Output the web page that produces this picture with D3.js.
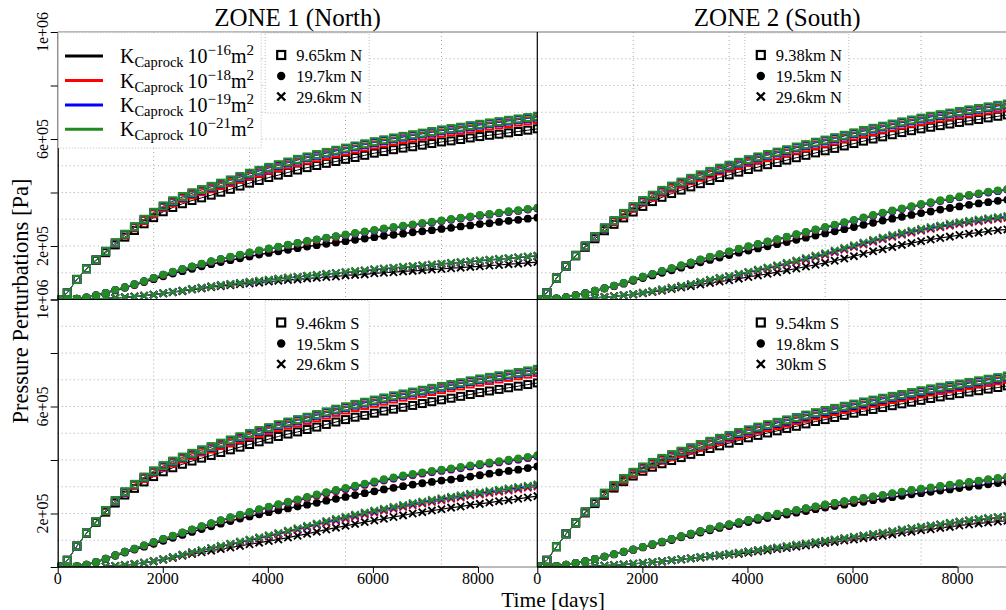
<!DOCTYPE html>
<html><head><meta charset="utf-8">
<script src="https://cdn.jsdelivr.net/npm/d3@7"></script>
<style>html,body{margin:0;padding:0;background:#fff;} svg{display:block;} text{font-family:"Liberation Serif","Times New Roman",Times,serif;}</style>
</head><body>
<script>
// ---------- DATA (pressure perturbation in kPa, time in days) ----------
const days = [0,183,365,548,730,913,1096,1278,1461,1644,1826,2009,2191,2374,2557,2739,2922,3104,3287,3470,3652,3835,4018,4200,4383,4566,4748,4931,5113,5296,5479,5661,5844,6027,6209,6392,6574,6757,6940,7122,7305,7488,7670,7853,8035,8218,8401,8583,8766,8948,9131];

// ZONE 1 (North)
const z1n_sq_k = [0,25,75,115,146,175,204,233,258,283,306,328,344,358,370,380,390,401,412,424,435,445,456,465,475,484,493,501,509,516,524,531,539,547,553,560,566,571,577,583,589,593,598,604,609,614,618,623,628,633,638];
const z1n_sq_r = [0,25,75,115,148,179,210,241,268,295,320,344,362,378,391,403,414,426,437,450,462,472,483,493,503,512,521,530,538,546,554,562,570,578,585,592,598,604,610,616,622,627,632,638,643,648,653,658,663,668,673];
const z1n_sq_b = [0,25,75,115,148,180,211,243,271,299,325,348,367,383,397,409,421,433,445,457,469,480,491,501,511,521,530,539,547,555,563,571,579,587,594,601,607,613,619,625,631,636,641,647,652,657,662,667,672,677,682];
const z1n_sq_g = [0,25,75,115,148,180,212,244,272,300,326,350,369,385,399,411,423,435,447,460,472,483,494,504,514,524,533,542,550,558,566,574,582,590,597,604,610,616,622,628,634,639,644,650,655,660,665,670,675,680,685];
const z1n_ci_k = [0,1,3,8,15,24,34,44,54,65,76,87,97,106,115,124,132,140,147,154,161,168,174,180,186,192,198,203,208,213,218,223,228,233,238,242,246,251,255,259,264,268,273,277,282,285,290,294,298,302,306];
const z1n_ci_r = [0,1,3,8,16,25,36,46,56,68,80,92,103,113,123,132,141,150,158,166,174,182,189,196,203,209,216,222,228,234,240,246,252,257,263,268,273,278,283,288,293,298,303,308,313,317,322,327,331,336,340];
const z1n_ci_b = [0,1,3,8,16,25,36,46,57,69,81,93,103,113,123,133,142,151,159,167,175,183,190,197,204,211,218,224,230,236,241,247,253,258,264,269,274,279,284,289,294,299,304,309,314,318,323,328,332,337,341];
const z1n_ci_g = [0,1,3,8,16,25,36,46,57,69,81,93,104,114,124,134,143,152,160,168,176,184,191,198,205,212,219,225,231,237,243,249,255,260,266,271,276,281,286,291,296,301,306,311,316,320,325,330,334,339,343];
const z1n_x_k = [0,0,0,1,2,4,6,8,11,14,18,23,27,31,37,41,46,50,53,57,60,63,67,70,73,75,79,81,84,86,90,92,94,98,100,102,105,107,109,112,114,117,119,122,124,127,129,132,134,137,140];
const z1n_x_r = [0,0,0,1,2,4,6,8,11,14,18,23,28,33,39,43,48,53,57,61,65,69,73,77,81,84,88,91,95,98,101,104,107,111,114,117,120,123,126,129,132,135,138,141,144,147,150,153,156,159,162];
const z1n_x_b = [0,0,0,1,2,4,6,8,11,14,18,23,28,33,39,44,49,54,58,62,65,69,73,77,81,84,88,91,95,98,102,105,108,112,115,118,121,124,127,130,133,136,139,142,145,148,151,154,157,160,163];
const z1n_x_g = [0,0,0,1,2,4,6,8,11,14,18,23,28,33,39,44,49,54,58,62,66,70,74,78,82,85,89,92,96,99,103,106,109,113,116,119,122,125,128,131,134,137,140,143,146,149,152,155,158,161,164];

// ZONE 2 (North)
const z2n_sq_k = [0,25,80,125,163,195,227,257,281,305,327,348,366,382,396,409,421,433,445,456,466,476,486,495,504,512,521,530,539,548,556,565,574,583,592,600,608,616,624,631,638,644,650,656,662,668,673,679,685,690,695];
const z2n_sq_r = [0,25,80,125,165,199,233,265,291,317,341,364,383,401,416,431,444,457,469,481,492,502,512,522,531,539,548,558,567,576,584,593,602,611,620,628,636,644,652,659,666,673,679,685,691,697,702,708,714,719,724];
const z2n_sq_b = [0,25,80,125,165,200,234,267,294,321,346,368,388,406,422,437,451,464,477,488,499,510,520,530,539,548,557,567,576,585,593,602,611,620,629,637,645,653,661,668,675,682,688,694,700,706,711,717,723,728,733];
const z2n_sq_g = [0,25,80,125,165,200,235,268,295,322,347,370,390,408,424,439,453,466,479,491,502,513,523,533,542,551,560,570,579,588,596,605,614,623,632,640,648,656,664,671,678,685,691,697,703,709,714,720,726,731,736];
const z2n_ci_k = [0,1,4,9,16,24,32,41,50,59,70,80,90,100,109,119,129,139,148,157,166,175,183,191,199,207,215,223,231,239,247,255,263,271,279,287,295,302,309,316,323,329,336,342,348,354,359,364,369,373,377];
const z2n_ci_r = [0,1,4,9,16,24,33,42,51,61,73,84,95,106,116,126,137,148,158,168,178,188,197,206,215,223,232,241,250,259,268,277,286,295,304,313,322,330,338,346,354,361,368,375,382,388,394,400,405,410,415];
const z2n_ci_b = [0,1,4,9,16,24,33,42,52,62,74,85,95,106,116,127,138,149,159,169,179,189,198,207,216,225,234,243,252,261,269,278,287,296,305,314,323,331,339,347,355,362,369,376,383,389,395,401,406,411,416];
const z2n_ci_g = [0,1,4,9,16,24,33,42,52,62,74,85,96,107,117,128,139,150,160,170,180,190,199,208,217,226,235,244,253,262,271,280,289,298,307,316,325,333,341,349,357,364,371,378,385,391,397,403,408,413,418];
const z2n_x_k = [0,0,0,1,2,4,6,9,12,16,19,23,28,33,39,45,50,56,62,67,72,78,84,90,96,102,109,116,123,130,137,145,153,162,171,180,188,196,204,211,218,224,230,235,241,246,250,255,259,262,266];
const z2n_x_r = [0,0,0,1,2,4,6,9,12,16,20,25,30,36,43,49,56,64,71,78,85,92,100,108,115,123,132,140,149,158,166,176,186,196,206,216,225,234,242,250,257,264,270,276,282,287,292,297,301,305,309];
const z2n_x_b = [0,0,0,1,2,4,6,9,12,16,20,25,31,37,44,50,57,65,73,80,86,94,102,110,118,126,135,144,152,161,170,180,190,200,210,220,229,238,246,254,261,268,274,280,286,291,296,301,305,309,313];
const z2n_x_g = [0,0,0,1,2,4,6,9,12,16,20,25,31,37,44,51,58,66,74,81,88,96,104,112,120,128,137,146,155,164,173,183,193,203,213,223,232,241,249,257,264,271,277,283,289,294,299,304,308,312,316];

// ZONE 1 (South)
const z1s_sq_k = [0,25,78,126,167,205,239,269,294,318,338,356,371,384,396,407,417,428,438,448,458,468,478,488,497,505,514,523,533,542,551,560,567,575,583,590,597,604,611,618,625,631,638,645,652,658,664,670,676,682,688];
const z1s_sq_r = [0,25,78,127,170,210,246,278,305,331,353,373,389,404,417,430,441,454,465,477,489,499,510,521,531,539,548,558,568,578,587,596,604,612,620,628,635,642,649,656,663,670,677,684,691,697,703,709,715,721,727];
const z1s_sq_b = [0,25,78,127,170,211,247,280,308,335,358,377,394,409,423,436,448,461,473,484,496,507,518,529,539,548,557,567,577,587,596,605,613,621,629,637,644,651,658,665,672,679,686,693,700,706,712,718,724,730,736];
const z1s_sq_g = [0,25,78,127,170,211,248,281,309,336,359,379,396,411,425,438,450,463,475,487,499,510,521,532,542,551,560,570,580,590,599,608,616,624,632,640,647,654,661,668,675,682,689,696,703,709,715,721,727,733,739];
const z1s_ci_k = [0,1,3,9,18,30,42,54,65,76,87,98,109,120,131,142,152,162,172,181,189,197,205,212,219,226,233,240,248,255,262,269,276,283,290,296,302,308,313,318,323,327,332,338,343,349,354,359,364,370,376];
const z1s_ci_r = [0,1,3,9,19,31,44,57,68,80,92,104,116,128,140,151,162,173,183,193,203,212,222,231,240,248,257,266,275,283,291,299,307,315,323,330,337,343,349,354,359,364,369,375,380,386,391,396,401,407,413];
const z1s_ci_b = [0,1,3,9,19,31,44,57,69,81,93,105,116,128,140,152,163,174,185,195,204,214,224,233,242,251,260,269,278,286,293,301,309,317,325,332,339,345,351,356,361,366,371,377,382,388,393,398,403,409,415];
const z1s_ci_g = [0,1,3,9,19,31,44,57,69,81,93,105,117,129,141,153,164,175,186,196,206,216,226,235,244,253,262,271,280,288,296,304,312,320,328,335,342,348,354,359,364,369,374,380,385,391,396,401,406,412,418];
const z1s_x_k = [0,0,0,0,1,2,4,7,11,16,21,27,34,42,49,55,61,67,73,79,85,91,97,103,110,117,124,132,140,147,154,161,168,174,180,187,193,200,205,211,216,222,226,232,236,241,246,250,255,260,265];
const z1s_x_r = [0,0,0,0,1,2,4,7,11,16,22,29,36,45,53,61,69,76,84,92,99,107,114,122,131,139,148,157,165,173,180,188,196,203,210,217,224,231,237,243,249,255,260,266,271,276,281,286,291,296,301];
const z1s_x_b = [0,0,0,0,1,2,4,7,11,16,22,29,37,46,55,62,70,78,86,94,101,109,117,125,134,142,151,160,169,177,185,193,201,208,215,222,229,236,242,248,254,260,265,271,276,281,286,291,296,301,306];
const z1s_x_g = [0,0,0,0,1,2,4,7,11,16,22,29,37,46,55,63,71,79,87,95,103,111,119,127,136,145,154,163,172,180,188,196,204,211,218,225,232,239,245,251,257,263,268,274,279,284,289,294,299,304,309];

// ZONE 2 (South)
const z2s_sq_k = [0,25,76,124,164,202,237,268,295,319,340,358,373,386,398,409,421,432,443,453,463,473,483,492,501,509,518,526,535,544,551,559,567,575,582,589,596,603,610,616,623,630,636,642,648,654,659,665,671,677,683];
const z2s_sq_r = [0,25,76,124,166,205,241,273,301,326,348,368,384,399,412,425,437,449,460,471,482,492,502,512,521,529,538,547,556,565,573,581,589,597,605,612,619,626,633,640,647,654,660,666,672,678,684,690,696,702,708];
const z2s_sq_b = [0,25,76,124,166,206,242,275,304,330,353,372,389,404,418,431,444,456,468,478,489,500,510,520,529,538,547,556,565,574,582,590,598,606,614,621,628,635,642,649,656,663,669,675,681,687,693,699,705,711,717];
const z2s_sq_g = [0,25,76,124,166,206,243,276,305,331,354,374,391,406,420,433,446,458,470,481,492,503,513,523,532,541,550,559,568,577,585,593,601,609,617,624,631,638,645,652,659,666,672,678,684,690,696,702,708,714,720];
const z2s_ci_k = [0,1,4,9,15,22,30,39,47,56,64,73,82,92,101,111,120,129,137,146,153,161,168,176,183,190,196,203,209,216,222,228,233,239,244,250,255,261,266,272,276,281,286,290,295,300,304,309,314,318,323];
const z2s_ci_r = [0,1,4,9,15,22,30,39,48,57,65,74,84,94,104,114,124,133,142,151,158,166,174,182,190,197,204,211,218,225,231,237,243,249,255,261,267,273,279,285,290,295,300,305,310,315,320,325,330,335,340];
const z2s_ci_b = [0,1,4,9,15,22,30,39,48,57,66,75,85,95,105,115,125,134,143,152,159,167,175,183,191,198,205,212,219,226,233,239,245,251,257,263,268,274,280,286,291,296,301,306,311,316,321,326,331,336,341];
const z2s_ci_g = [0,1,4,9,15,22,30,39,48,57,66,75,85,95,105,115,125,134,143,152,160,168,176,184,192,199,206,213,220,227,234,240,246,252,258,264,270,276,282,288,293,298,303,308,313,318,323,328,333,338,343];
const z2s_x_k = [0,0,0,0,1,2,3,5,7,9,12,15,18,21,25,28,32,35,39,42,46,49,53,58,62,67,71,76,80,85,90,94,99,103,108,112,117,122,128,132,137,141,146,150,155,159,163,166,170,173,176];
const z2s_x_r = [0,0,0,0,1,2,3,5,7,9,12,15,18,21,25,29,33,37,41,45,48,52,57,62,67,71,76,81,86,91,95,100,105,110,115,120,125,131,137,142,147,152,157,162,167,172,176,180,184,188,192];
const z2s_x_b = [0,0,0,0,1,2,3,5,7,9,12,15,18,21,25,29,33,37,41,45,49,53,58,63,68,72,77,82,87,92,97,102,107,112,117,122,127,133,139,144,149,154,159,164,169,174,178,182,186,190,194];
const z2s_x_g = [0,0,0,0,1,2,3,5,7,9,12,15,18,21,25,29,33,37,41,45,49,53,58,63,68,73,78,83,88,93,98,103,108,113,118,123,128,134,140,145,150,155,160,165,170,175,179,183,187,191,195];

const permExp = ["\u221216","\u221218","\u221219","\u221221"];
const colors = ["#000000","#ff0000","#0000ff","#228b22"];
const xTicks = [0,2000,4000,6000,8000];
const yTicks = [0,200,400,600,800,1000];
const yTickLabels = [[200,"2e+05"],[600,"6e+05"],[1000,"1e+06"]];
const gridDays = [1826,3652,5479,7305];
const gridP = [100,200,300,400,500,600,700,800,900];
const titles = ["ZONE 1 (North)","ZONE 2 (South)"];

const panels = [
  {col:0,row:0,labels:["9.65km N","19.7km N","29.6km N"],
   sq:[z1n_sq_k,z1n_sq_r,z1n_sq_b,z1n_sq_g],ci:[z1n_ci_k,z1n_ci_r,z1n_ci_b,z1n_ci_g],cx:[z1n_x_k,z1n_x_r,z1n_x_b,z1n_x_g]},
  {col:1,row:0,labels:["9.38km N","19.5km N","29.6km N"],
   sq:[z2n_sq_k,z2n_sq_r,z2n_sq_b,z2n_sq_g],ci:[z2n_ci_k,z2n_ci_r,z2n_ci_b,z2n_ci_g],cx:[z2n_x_k,z2n_x_r,z2n_x_b,z2n_x_g]},
  {col:0,row:1,labels:["9.46km S","19.5km S","29.6km S"],
   sq:[z1s_sq_k,z1s_sq_r,z1s_sq_b,z1s_sq_g],ci:[z1s_ci_k,z1s_ci_r,z1s_ci_b,z1s_ci_g],cx:[z1s_x_k,z1s_x_r,z1s_x_b,z1s_x_g]},
  {col:1,row:1,labels:["9.54km S","19.8km S","30km S"],
   sq:[z2s_sq_k,z2s_sq_r,z2s_sq_b,z2s_sq_g],ci:[z2s_ci_k,z2s_ci_r,z2s_ci_b,z2s_ci_g],cx:[z2s_x_k,z2s_x_r,z2s_x_b,z2s_x_g]}
];

// ---------- LAYOUT ----------
const W = 1006, H = 610;
const colX0 = [57.7, 537.3], PW = 479.7;
const rowTop = [32, 299.5], rowBot = [299.5, 567];
const FONT = '"Liberation Serif","Times New Roman",Times,serif';

const svg = d3.select("body").append("svg")
  .attr("width", W).attr("height", H)
  .attr("font-family", FONT);
const defs = svg.append("defs");

function txt(sel) { return sel.append("text").attr("font-family", FONT).style("font-family", FONT).attr("fill", "#000"); }

panels.forEach((p, pi) => {
  const x0 = colX0[p.col], top = rowTop[p.row], bot = rowBot[p.row];
  const x = d3.scaleLinear().domain([0, 9131]).range([x0, x0 + PW]);
  const y = d3.scaleLinear().domain([0, 1000]).range([bot, top]);
  p.x = x; p.y = y;

  defs.append("clipPath").attr("id", "clip" + pi)
    .append("rect").attr("x", x0).attr("y", top).attr("width", PW).attr("height", bot - top);

  const g = svg.append("g");
  const grid = g.append("g").attr("stroke", "#a8a8a8").attr("stroke-width", 1).attr("stroke-dasharray", "1,3");
  gridDays.forEach(d => grid.append("line").attr("x1", x(d)).attr("x2", x(d)).attr("y1", top).attr("y2", bot));
  gridP.forEach(v => grid.append("line").attr("x1", x0).attr("x2", x0 + PW).attr("y1", y(v)).attr("y2", y(v)));

  const sg = g.append("g").attr("clip-path", `url(#clip${pi})`);
  const line = d3.line().x((d, i) => x(days[i])).y(d => y(d));
  for (let c = 0; c < 4; c++) {
    const col = colors[c];
    sg.append("path").datum(p.sq[c]).attr("d", line).attr("fill", "none").attr("stroke", col).attr("stroke-width", 1);
    sg.append("g").selectAll("rect").data(p.sq[c]).join("rect")
      .attr("x", (d, i) => x(days[i]) - 3.5).attr("y", d => y(d) - 3.5)
      .attr("width", 7).attr("height", 7)
      .attr("fill", "none").attr("stroke", col).attr("stroke-width", 2);
    sg.append("path").datum(p.ci[c]).attr("d", line).attr("fill", "none").attr("stroke", col).attr("stroke-width", 1.5);
    sg.append("g").selectAll("circle").data(p.ci[c]).join("circle")
      .attr("cx", (d, i) => x(days[i])).attr("cy", d => y(d)).attr("r", 3.9)
      .attr("fill", col);
    sg.append("path").datum(p.cx[c]).attr("d", line).attr("fill", "none").attr("stroke", col).attr("stroke-width", 1.2);
    sg.append("g").selectAll("path").data(p.cx[c]).join("path")
      .attr("transform", (d, i) => `translate(${x(days[i])},${y(d)})`)
      .attr("d", "M-3.6,-3.6L3.6,3.6M-3.6,3.6L3.6,-3.6")
      .attr("fill", "none").attr("stroke", col).attr("stroke-width", 1.9);
  }
});

// ---------- FRAME & AXES ----------
const fr = svg.append("g");
fr.append("line").attr("x1", 57.7).attr("x2", W).attr("y1", 32).attr("y2", 32).attr("stroke", "#777").attr("stroke-width", 1.2);
fr.append("line").attr("x1", 57.7).attr("x2", W).attr("y1", 567).attr("y2", 567).attr("stroke", "#777").attr("stroke-width", 1.2);
fr.append("line").attr("x1", 57.7).attr("x2", W).attr("y1", 299.5).attr("y2", 299.5).attr("stroke", "#000").attr("stroke-width", 1);
fr.append("line").attr("x1", 537.3).attr("x2", 537.3).attr("y1", 32).attr("y2", 567).attr("stroke", "#000").attr("stroke-width", 1.2);

panels.forEach(p => {
  if (p.col === 0) {
    const ax = svg.append("g").attr("transform", `translate(${colX0[0]},0)`)
      .call(d3.axisLeft(p.y).tickValues(yTicks).tickSize(7).tickSizeOuter(0).tickFormat(() => ""));
    ax.select(".domain").attr("stroke", "#000").attr("stroke-width", 1.3);
    ax.selectAll(".tick line").attr("stroke", "#000").attr("stroke-width", 1);
    ax.selectAll(".tick text").remove();
    yTickLabels.forEach(([v, s]) => {
      txt(svg).attr("transform", `translate(48,${p.y(v)}) rotate(-90)`)
        .attr("text-anchor", "middle").attr("font-size", 16).style("font-size", "16px").text(s);
    });
  }
  if (p.row === 1) {
    const ax = svg.append("g").attr("transform", `translate(0,${rowBot[1]})`)
      .call(d3.axisBottom(p.x).tickValues(xTicks).tickSize(6).tickSizeOuter(0).tickFormat(() => ""));
    ax.select(".domain").remove();
    ax.selectAll(".tick line").attr("stroke", "#000");
    ax.selectAll(".tick text").remove();
    xTicks.forEach(v => {
      txt(svg).attr("x", p.x(v)).attr("y", 584).attr("text-anchor", "middle")
        .attr("font-size", 16).style("font-size", "16px").text(String(v));
    });
    svg.append("line").attr("x1", p.x(0)).attr("x2", p.x(8000)).attr("y1", rowBot[1]).attr("y2", rowBot[1])
      .attr("stroke", "#000").attr("stroke-width", 1.3);
  }
});

// ---------- DISTANCE LEGENDS ----------
panels.forEach(p => {
  const x0 = colX0[p.col], top = rowTop[p.row];
  const bx = x0 + 207.5, by = top + 1;
  const lg = svg.append("g");
  lg.append("rect").attr("x", bx).attr("y", by).attr("width", 104).attr("height", 80)
    .attr("fill", "#fff").attr("stroke", "#bbb").attr("stroke-width", 1).attr("stroke-dasharray", "1,2");
  const rows = [top + 23, top + 44, top + 64.5];
  const mx = bx + 16;
  lg.append("rect").attr("x", mx - 4).attr("y", rows[0] - 4).attr("width", 8).attr("height", 8)
    .attr("fill", "none").attr("stroke", "#000").attr("stroke-width", 2.2);
  lg.append("circle").attr("cx", mx).attr("cy", rows[1]).attr("r", 4.2).attr("fill", "#000");
  lg.append("path").attr("transform", `translate(${mx},${rows[2]})`).attr("d", "M-4,-4L4,4M-4,4L4,-4")
    .attr("stroke", "#000").attr("stroke-width", 2.4);
  p.labels.forEach((s, i) => {
    txt(lg).attr("x", bx + 31).attr("y", rows[i] + 6).attr("font-size", 16.5).style("font-size", "16.5px").text(s);
  });
});

// ---------- PERMEABILITY LEGEND ----------
const pl = svg.append("g");
pl.append("rect").attr("x", 58.2).attr("y", 32.6).attr("width", 203).attr("height", 115.5)
  .attr("fill", "#fff").attr("stroke", "#bbb").attr("stroke-width", 1).attr("stroke-dasharray", "1,2");
const lrows = [56, 80.5, 105, 129.3];
permExp.forEach((e, i) => {
  pl.append("line").attr("x1", 65).attr("x2", 103).attr("y1", lrows[i]).attr("y2", lrows[i])
    .attr("stroke", colors[i]).attr("stroke-width", 3);
  const t = txt(pl).attr("x", 120).attr("y", lrows[i] + 7).style("font-size", "20px");
  t.append("tspan").text("K");
  t.append("tspan").attr("dy", 4).style("font-size", "14.5px").text("Caprock");
  t.append("tspan").attr("dy", -4).attr("dx", 4).style("font-size", "20px").text("10");
  t.append("tspan").attr("dy", -8).style("font-size", "15px").text(e);
  t.append("tspan").attr("dy", 8).style("font-size", "20px").text("m");
  t.append("tspan").attr("dy", -8).style("font-size", "15px").text("2");
});

// ---------- TITLES ----------
titles.forEach((s, i) => {
  txt(svg).attr("x", colX0[i] + PW / 2).attr("y", 26).attr("text-anchor", "middle")
    .style("font-size", "25px").text(s);
});
txt(svg).attr("x", 553).attr("y", 606.5).attr("text-anchor", "middle")
  .style("font-size", "21.5px").text("Time [days]");
txt(svg).attr("transform", "translate(28,301) rotate(-90)").attr("text-anchor", "middle")
  .style("font-size", "22.5px").text("Pressure Perturbations [Pa]");
</script>
</body></html>
